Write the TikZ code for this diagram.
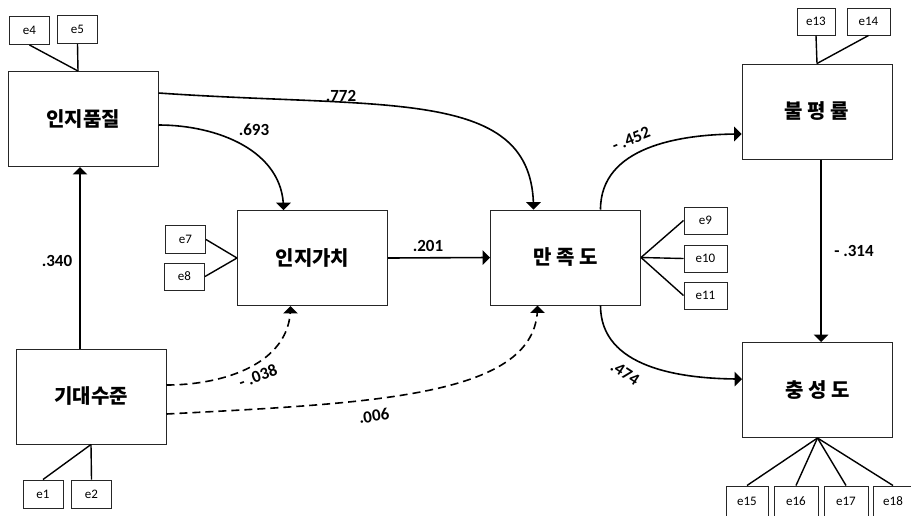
\documentclass[tikz,border=0pt]{standalone}
\usepackage{fontspec}
\setmainfont{Carlito}
\newfontfamily\kor{Noto Sans CJK KR}
\usetikzlibrary{arrows}

\begin{document}
\begin{tikzpicture}[x=1pt, y=-1pt,
  bigbox/.style={draw=black!85, line width=1pt, fill=white, minimum width=150pt, minimum height=95pt, inner sep=0pt, font=\kor\bfseries\fontsize{20}{20}\selectfont},
  errbox/.style={draw=black!85, line width=1pt, minimum width=40pt, minimum height=28pt, inner sep=0pt, font=\fontsize{13}{13}\selectfont},
  coef/.style={font=\bfseries\fontsize{17}{17}\selectfont, inner sep=1pt},
  effect/.style={line width=1.6pt, -triangle 90},
  nulleffect/.style={effect, dash pattern=on 8pt off 5pt},
  errline/.style={line width=1.4pt}]

\useasboundingbox (0, 0) rectangle (911, 515);
\clip (0, 0) rectangle (911, 515);

\node[bigbox] (quality) at (83, 119) {인지품질};
\node[bigbox] (expect) at (91, 396.5) {기대수준};
\node[bigbox] (value) at (312.5, 258) {인지가치};
\node[bigbox] (satis) at (565.5, 257.5) {만 족 도};
\node[bigbox] (complain) at (817, 111.5) {불 평 률};
\node[bigbox] (loyal) at (817.5, 390) {충 성 도};

\node[errbox] (e4) at (29.5, 30.5) {e4};
\node[errbox] (e5) at (77.5, 29.5) {e5};
\node[errbox] (e1) at (43, 494) {e1};
\node[errbox] (e2) at (91.5, 494) {e2};
\node[errbox] (e7) at (185.5, 239.5) {e7};
\node[errbox, minimum height=27pt] (e8) at (184.5, 276.5) {e8};
\node[errbox, minimum width=43pt, minimum height=27pt] (e9) at (705.5, 220.5) {e9};
\node[errbox, minimum width=43pt, minimum height=27pt] (e10) at (705.5, 258.5) {e10};
\node[errbox, minimum width=43pt, minimum height=27pt] (e11) at (705.5, 295.5) {e11};
\node[errbox, minimum width=38pt, minimum height=27pt] (e13) at (816, 21.5) {e13};
\node[errbox, minimum width=43pt, minimum height=27pt] (e14) at (868.5, 21.5) {e14};
\node[errbox, minimum width=42pt, minimum height=30pt] (e15) at (747, 501) {e15};
\node[errbox, minimum width=44pt, minimum height=30pt] (e16) at (796, 501) {e16};
\node[errbox, minimum width=44pt, minimum height=30pt] (e17) at (846, 501) {e17};
\node[errbox, minimum width=40pt, minimum height=30pt] (e18) at (893, 501) {e18};

\draw[errline] (e4.south) -- ([xshift=-5pt]quality.north);
\draw[errline] (e5.south) -- ([xshift=-5pt]quality.north);
\draw[errline] (e1.north) -- (expect.south);
\draw[errline] (e2.north) -- (expect.south);
\draw[errline] (e7.east) -- (value.west);
\draw[errline] (e8.east) -- (value.west);
\draw[errline] (satis.east) -- (e9.west);
\draw[errline] (satis.east) -- (e10.west);
\draw[errline] (satis.east) -- (e11.west);
\draw[errline] (complain.north) -- (e13.south);
\draw[errline] (complain.north) -- (e14.south);
\draw[errline] (loyal.south) -- (e15.north);
\draw[errline] (loyal.south) -- (e16.north);
\draw[errline] (loyal.south) -- (e17.north);
\draw[errline] (loyal.south) -- (e18.north);

\draw[effect] ([xshift=-11pt]expect.north) -- ([xshift=-3pt]quality.south);
\draw[effect] (value.east) -- (satis.west);
\draw[effect] ([xshift=4pt]complain.south) -- ([xshift=3.5pt]loyal.north);
\draw[effect] ([yshift=26pt]quality.east) to[out=-4, in=90, out looseness=1.5, in looseness=0.8] ([xshift=-32pt]satis.north);
\draw[effect] ([yshift=-6pt]quality.east) to[out=0, in=90] ([xshift=-29pt]value.north);
\draw[nulleffect] ([yshift=11.5pt]expect.east) to[out=0, in=-90] ([xshift=-22pt]value.south);
\draw[nulleffect] ([yshift=-17.5pt]expect.east) to[out=3, in=-90, out looseness=1.4, in looseness=0.6] ([xshift=-28pt]satis.south);
\draw[effect] ([xshift=35pt]satis.north) to[out=90, in=180] ([yshift=-22.5pt]complain.west);
\draw[effect] ([xshift=35pt]satis.south) to[out=-90, in=180] ([yshift=11pt]loyal.west);

\node[coef] (c772) at (341, 96) {.772};
\node[coef] (c693) at (254, 130) {.693};
\node[coef] (c340) at (57, 261) {.340};
\node[coef] (c201) at (428, 246) {.201};
\node[coef, rotate=20] (c038) at (258, 376) {- .038};
\node[coef, rotate=8] (c006) at (374, 416) {.006};
\node[coef, rotate=22] (c452) at (631, 139) {- .452};
\node[coef, rotate=-33] (c474) at (625, 373) {.474};
\node[coef] (c314) at (854, 251) {- .314};

\end{tikzpicture}
\end{document}
